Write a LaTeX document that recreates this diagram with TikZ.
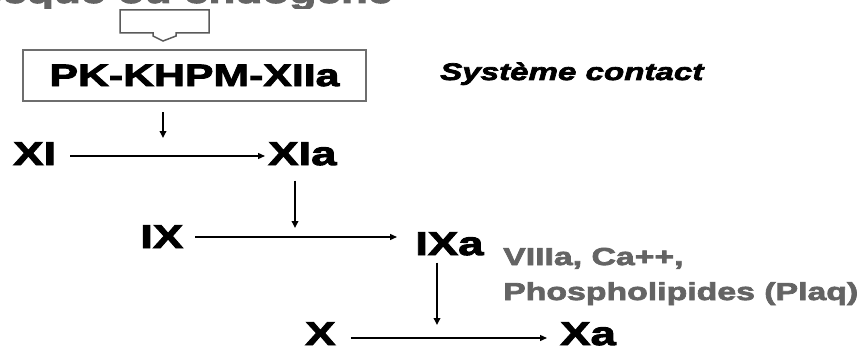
\documentclass[tikz,border=0pt]{standalone}
\usepackage{fontspec}
\newfontfamily\lab[FakeStretch=1.38,FakeBold=3]{Liberation Sans}
\usetikzlibrary{arrows.meta}
\definecolor{txtgray}{RGB}{100,100,100}
\definecolor{boxgray}{RGB}{110,110,110}
\definecolor{arrgray}{RGB}{90,90,90}
\begin{document}
\begin{tikzpicture}[x=1pt,y=-1pt,
  fac/.style={font=\lab\bfseries\fontsize{33}{36}\selectfont, inner sep=0pt, anchor=base west},
  gtxt/.style={font=\lab\bfseries\fontsize{24.5}{30}\selectfont, text=txtgray, inner sep=0pt, anchor=base west},
  arr/.style={-{Triangle[length=7pt,width=6pt]}, line width=1.3pt},
  varr/.style={-{Triangle[length=7pt,width=6.5pt]}, line width=1.8pt}]
\useasboundingbox (0,0) rectangle (868,353);
\clip (0,0) rectangle (868,353);
\fill[white] (0,0) rectangle (868,353);
% title, cut off at the top edge: only the feet of its letters show
\begin{scope}
  \clip (0,0) rectangle (868,9);
  \node[font=\lab\bfseries\fontsize{32}{36}\selectfont, text=txtgray, anchor=base west, inner sep=0pt] (title) at (-235,3) {Voie intrinsèque ou endogène};
\end{scope}
% block arrow
\draw[draw=arrgray, line width=1.5pt, line join=miter]
  (120,10) -- (120,33) -- (153,33) -- (153,36) -- (163,41) -- (176,36) -- (176,33) -- (209,33) -- (209,10) -- cycle;
% nodes
\node[draw=boxgray, line width=2pt, minimum width=343pt, minimum height=51pt, inner sep=0pt,
      font=\lab\bfseries\fontsize{31}{36}\selectfont] (pk) at (194.5,75.5) {PK-KHPM-XIIa};
\node[font=\lab\bfseries\itshape\fontsize{24}{28}\selectfont, inner sep=0pt, anchor=base west] (sc) at (440,80) {Système contact};
\node[fac] (XI) at (13,165) {XI};
\node[fac] (XIa) at (268,165) {XIa};
\node[fac] (IX) at (140,248) {IX};
\node[fac] (IXa) at (415,255) {IXa};
\node[fac] (X) at (305,345) {X};
\node[fac] (Xa) at (560,345) {Xa};
\node[gtxt] (g1) at (503,265) {VIIIa, Ca++,};
\node[gtxt] (g2) at (503,300) {Phospholipides (Plaq)};
% coordinates on the horizontal arrows
\coordinate (m1) at (163,156);
\coordinate (m2) at (295,237);
\coordinate (m3) at (437,338);
% connectors
\draw[arr] ([xshift=14pt]XI.east |- m1) -- ([xshift=-3pt]XIa.west |- m1);
\draw[varr] ([yshift=-10pt]pk.south -| m1) -- ([yshift=18pt]m1);
\draw[arr] ([xshift=12pt]IX.east |- m2) -- ([xshift=-18pt]IXa.west |- m2);
\draw[varr] ([yshift=-15pt]XIa.south -| m2) -- ([yshift=9pt]m2);
\draw[arr] ([xshift=15pt]X.east |- m3) -- ([xshift=-13pt]Xa.west |- m3);
\draw[varr] ([yshift=-7pt]IXa.south -| m3) -- ([yshift=13pt]m3);
\end{tikzpicture}
\end{document}
